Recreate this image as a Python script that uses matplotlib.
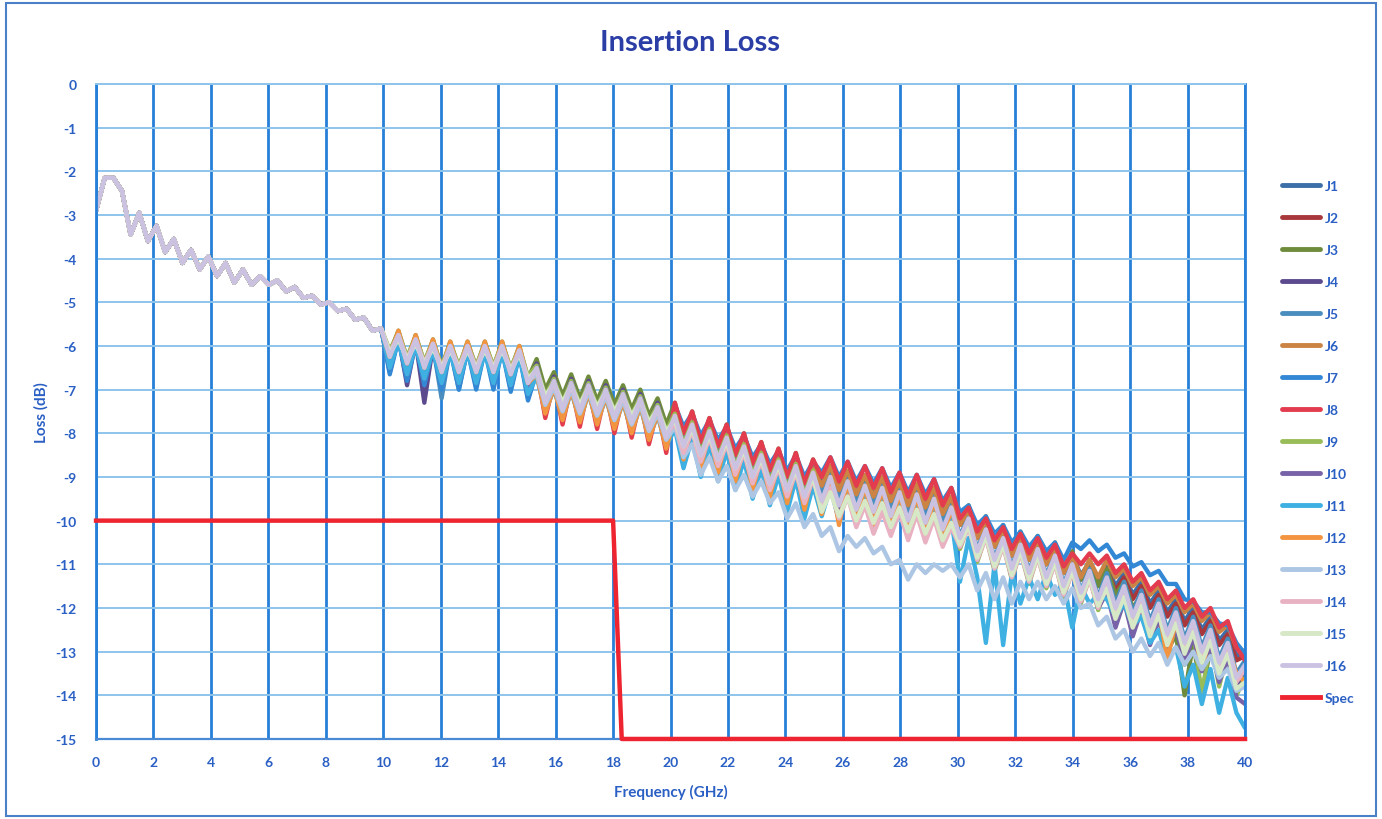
import numpy as np
import matplotlib
matplotlib.use("Agg")
import matplotlib.pyplot as plt
from matplotlib.patches import Rectangle

plt.rcParams['font.family'] = ['Lato', 'DejaVu Sans']

# sweep points (GHz)
freq = np.linspace(0, 40, 134)

# 0 - 10 GHz : all samples sit on top of each other
low_band = [-2.9, -2.15, -2.15, -2.45, -3.45, -2.95, -3.6, -3.25, -3.85, -3.55,
            -4.1, -3.8, -4.25, -3.95, -4.4, -4.1, -4.55, -4.25, -4.6, -4.4,
            -4.6, -4.5, -4.75, -4.65, -4.9, -4.85, -5.05, -5.0, -5.2, -5.15,
            -5.4, -5.35, -5.65, -5.6]

# 10 - 40 GHz, one list per sample
j1_hi = [-6.55, -5.75, -6.7, -5.85, -6.8, -5.95, -6.9, -6.0, -6.9, -6.0,
         -6.9, -6.0, -6.9, -6.0, -6.95, -6.1, -7.15, -6.6, -7.4, -6.9,
         -7.55, -6.95, -7.6, -7.0, -7.65, -7.1, -7.75, -7.2, -7.85, -7.3,
         -8.0, -7.5, -8.2, -7.45, -8.05, -7.65, -8.25, -7.8, -8.35, -7.95,
         -8.55, -8.15, -8.75, -8.35, -8.9, -8.5, -9.05, -8.6, -9.2, -8.75,
         -9.15, -8.8, -9.25, -8.9, -9.35, -9.0, -9.4, -9.05, -9.5, -9.15,
         -9.6, -9.2, -9.65, -9.3, -9.8, -9.5, -10.0, -9.75, -10.3, -10.0,
         -10.5, -10.2, -10.7, -10.35, -10.8, -10.45, -10.9, -10.6, -11.1, -10.8,
         -11.25, -10.95, -11.4, -11.0, -11.5, -11.2, -11.7, -11.4, -11.9, -11.6,
         -12.1, -11.8, -12.3, -12.0, -12.5, -12.2, -12.75, -12.5, -13.1, -13.0]
j2_hi = [-6.4, -5.8, -6.55, -5.9, -6.65, -6.0, -6.75, -6.05, -6.75, -6.05,
         -6.75, -6.05, -6.75, -6.05, -6.8, -6.15, -7.0, -6.6, -7.5, -6.9,
         -7.65, -6.95, -7.7, -7.0, -7.75, -7.1, -7.85, -7.2, -7.95, -7.3,
         -8.1, -7.5, -8.3, -7.45, -8.15, -7.65, -8.35, -7.8, -8.45, -7.95,
         -8.65, -8.15, -8.85, -8.35, -9.0, -8.5, -9.15, -8.6, -9.3, -8.75,
         -9.2, -8.85, -9.3, -8.95, -9.4, -9.05, -9.45, -9.1, -9.55, -9.2,
         -9.65, -9.25, -9.7, -9.35, -9.85, -9.55, -10.1, -9.85, -10.4, -10.1,
         -10.6, -10.3, -10.8, -10.45, -10.9, -10.55, -11.0, -10.7, -11.2, -10.9,
         -11.35, -11.05, -11.5, -11.1, -11.6, -11.3, -11.8, -11.5, -12.0, -11.7,
         -12.2, -11.9, -12.4, -12.1, -12.6, -12.3, -12.85, -12.6, -13.2, -13.1]
j3_hi = [-6.15, -5.65, -6.3, -5.75, -6.4, -5.85, -6.5, -5.9, -6.5, -5.9,
         -6.5, -5.9, -6.5, -5.9, -6.55, -6.0, -6.75, -6.3, -7.0, -6.6,
         -7.15, -6.65, -7.2, -6.7, -7.25, -6.8, -7.35, -6.9, -7.45, -7.0,
         -7.6, -7.2, -7.8, -7.3, -8.1, -7.5, -8.3, -7.65, -8.4, -7.8,
         -8.6, -8.0, -8.8, -8.2, -8.95, -8.35, -9.1, -8.45, -9.25, -8.6,
         -9.35, -8.8, -9.45, -8.9, -9.55, -9.0, -9.6, -9.05, -9.7, -9.15,
         -9.8, -9.2, -9.85, -9.3, -10.0, -9.5, -10.1, -9.65, -10.4, -9.9,
         -10.6, -10.1, -10.8, -10.25, -10.9, -10.35, -11.0, -10.5, -11.2, -10.7,
         -11.35, -10.9, -11.5, -11.1, -11.7, -11.4, -12.0, -11.7, -12.4, -12.0,
         -13.0, -12.6, -14.0, -12.8, -14.0, -12.9, -13.4, -13.0, -13.6, -13.4]
j4_hi = [-6.4, -5.8, -6.9, -5.9, -7.3, -6.0, -7.0, -6.05, -6.8, -6.05,
         -6.8, -6.05, -6.7, -6.05, -6.7, -6.15, -6.9, -6.4, -7.2, -6.7,
         -7.35, -6.75, -7.4, -6.8, -7.45, -6.9, -7.55, -7.0, -7.65, -7.1,
         -7.8, -7.3, -8.0, -7.7, -8.5, -7.9, -8.7, -8.05, -8.8, -8.2,
         -9.0, -8.4, -9.2, -8.6, -9.35, -8.75, -9.5, -8.85, -9.65, -9.0,
         -9.65, -9.1, -9.75, -9.2, -9.85, -9.3, -9.9, -9.35, -10.0, -9.45,
         -10.1, -9.5, -10.15, -9.6, -10.3, -9.8, -10.5, -10.05, -10.8, -10.3,
         -11.0, -10.5, -11.2, -10.65, -11.3, -10.75, -11.4, -10.9, -11.6, -11.1,
         -11.75, -11.25, -11.9, -11.5, -12.2, -11.7, -12.4, -11.9, -12.6, -12.1,
         -12.8, -12.3, -13.0, -12.5, -13.2, -12.7, -13.45, -13.0, -13.8, -13.5]
j5_hi = [-6.6, -5.8, -6.75, -5.9, -6.85, -6.0, -7.2, -6.05, -7.0, -6.05,
         -6.95, -6.05, -6.9, -6.05, -7.0, -6.15, -7.2, -6.55, -7.35, -6.85,
         -7.5, -6.9, -7.55, -6.95, -7.6, -7.05, -7.7, -7.15, -7.8, -7.25,
         -7.95, -7.45, -8.15, -7.5, -8.2, -7.7, -8.4, -7.85, -8.5, -8.0,
         -8.7, -8.2, -8.9, -8.4, -9.05, -8.55, -9.2, -8.65, -9.35, -8.8,
         -9.4, -8.95, -9.5, -9.05, -9.6, -9.15, -9.65, -9.2, -9.75, -9.3,
         -9.85, -9.35, -9.9, -9.45, -10.05, -9.65, -10.35, -9.9, -10.65, -10.15,
         -10.85, -10.35, -11.05, -10.5, -11.15, -10.6, -11.25, -10.75, -11.45, -10.95,
         -11.6, -11.1, -11.75, -11.2, -11.9, -11.4, -12.1, -11.6, -12.3, -11.8,
         -12.5, -12.0, -12.7, -12.2, -12.9, -12.4, -13.15, -12.7, -13.5, -13.2]
j6_hi = [-6.2, -5.7, -6.35, -5.8, -6.45, -5.9, -6.55, -5.95, -6.55, -5.95,
         -6.55, -5.95, -6.55, -5.95, -6.6, -6.05, -6.8, -6.55, -7.45, -6.85,
         -7.6, -6.9, -7.65, -6.95, -7.7, -7.05, -7.8, -7.15, -7.9, -7.25,
         -8.05, -7.45, -8.25, -7.5, -8.3, -7.7, -8.5, -7.85, -8.6, -8.0,
         -8.8, -8.2, -9.0, -8.4, -9.15, -8.55, -9.3, -8.65, -9.45, -8.8,
         -9.2, -8.75, -9.3, -8.85, -9.4, -8.95, -9.45, -9.0, -9.55, -9.1,
         -9.65, -9.15, -9.7, -9.25, -9.85, -9.45, -10.1, -9.75, -10.4, -10.0,
         -10.6, -10.2, -10.8, -10.35, -10.9, -10.45, -11.0, -10.6, -11.2, -10.8,
         -11.3, -10.9, -11.3, -10.9, -11.3, -11.1, -11.5, -11.3, -11.7, -11.5,
         -11.9, -11.7, -12.1, -11.9, -12.3, -12.1, -12.55, -12.4, -12.9, -13.0]
j7_hi = [-6.65, -5.85, -6.8, -5.95, -6.9, -6.05, -7.0, -6.1, -7.0, -6.1,
         -7.0, -6.1, -7.0, -6.1, -7.05, -6.2, -7.25, -6.6, -7.5, -6.9,
         -7.65, -6.95, -7.7, -7.0, -7.75, -7.1, -7.85, -7.2, -7.95, -7.3,
         -8.1, -7.5, -8.3, -7.35, -7.85, -7.55, -8.05, -7.7, -8.15, -7.85,
         -8.35, -8.05, -8.55, -8.25, -8.7, -8.4, -8.85, -8.5, -9.0, -8.65,
         -8.9, -8.55, -9.0, -8.65, -9.1, -8.75, -9.15, -8.8, -9.25, -8.9,
         -9.35, -8.95, -9.4, -9.05, -9.55, -9.25, -9.8, -9.65, -10.1, -9.9,
         -10.3, -10.1, -10.5, -10.25, -10.6, -10.35, -10.7, -10.5, -10.9, -10.5,
         -10.65, -10.45, -10.7, -10.55, -10.85, -10.75, -11.05, -10.95, -11.25, -11.15,
         -11.45, -11.45, -11.8, -11.85, -12.1, -12.1, -12.35, -12.4, -12.8, -13.05]
j8_hi = [-6.25, -5.75, -6.4, -5.85, -6.5, -5.95, -6.6, -6.0, -6.6, -6.0,
         -6.6, -6.0, -6.6, -6.0, -6.65, -6.1, -6.85, -6.55, -7.65, -6.85,
         -7.8, -6.9, -7.85, -6.95, -7.9, -7.05, -8.0, -7.15, -8.1, -7.25,
         -8.25, -7.45, -8.45, -7.3, -8.0, -7.5, -8.2, -7.65, -8.3, -7.8,
         -8.5, -8.0, -8.7, -8.2, -8.85, -8.35, -9.0, -8.45, -9.15, -8.6,
         -9.0, -8.55, -9.1, -8.65, -9.2, -8.75, -9.25, -8.8, -9.35, -8.9,
         -9.45, -8.95, -9.5, -9.05, -9.65, -9.25, -9.95, -9.7, -10.25, -9.95,
         -10.45, -10.15, -10.65, -10.3, -10.75, -10.4, -10.85, -10.55, -11.05, -10.75,
         -11.0, -10.75, -11.0, -10.8, -11.2, -11.0, -11.4, -11.2, -11.6, -11.4,
         -11.8, -11.6, -12.0, -11.8, -12.2, -12.0, -12.45, -12.3, -12.9, -13.2]
j9_hi = [-6.1, -5.7, -6.25, -5.8, -6.35, -5.9, -6.45, -5.95, -6.45, -5.95,
         -6.45, -5.95, -6.45, -5.95, -6.5, -6.05, -6.7, -6.45, -7.15, -6.75,
         -7.3, -6.8, -7.35, -6.85, -7.4, -6.95, -7.5, -7.05, -7.6, -7.15,
         -7.75, -7.35, -7.95, -7.55, -8.25, -7.75, -8.45, -7.9, -8.55, -8.05,
         -8.75, -8.25, -8.95, -8.45, -9.1, -8.6, -9.25, -8.7, -9.4, -8.85,
         -9.7, -9.15, -9.8, -9.25, -9.9, -9.35, -9.95, -9.4, -10.05, -9.5,
         -10.15, -9.55, -10.2, -9.65, -10.35, -9.85, -10.65, -10.1, -10.95, -10.35,
         -11.15, -10.55, -11.35, -10.7, -11.45, -10.8, -11.55, -10.95, -11.75, -11.15,
         -11.9, -11.3, -12.05, -11.5, -12.4, -11.7, -12.6, -11.9, -12.8, -12.1,
         -13.0, -12.3, -13.3, -12.5, -14.0, -12.7, -13.8, -13.0, -14.0, -13.6]
j10_hi = [-6.5, -5.8, -6.65, -5.9, -6.75, -6.0, -6.85, -6.05, -6.85, -6.05,
          -6.85, -6.05, -6.85, -6.05, -6.9, -6.15, -7.1, -6.5, -7.4, -6.8,
          -7.55, -6.85, -7.6, -6.9, -7.65, -7.0, -7.75, -7.1, -7.85, -7.2,
          -8.0, -7.4, -8.2, -7.85, -8.55, -8.05, -8.75, -8.2, -8.85, -8.35,
          -9.05, -8.55, -9.25, -8.75, -9.4, -8.9, -9.55, -9.0, -9.7, -9.15,
          -9.6, -9.05, -9.7, -9.15, -9.8, -9.25, -9.85, -9.3, -9.95, -9.4,
          -10.05, -9.45, -10.1, -9.55, -10.25, -9.75, -10.6, -10.05, -10.9, -10.3,
          -11.1, -10.5, -11.3, -10.65, -11.4, -10.75, -11.5, -10.9, -11.7, -11.1,
          -11.85, -11.25, -12.0, -11.65, -12.45, -11.85, -12.65, -12.05, -12.85, -12.25,
          -13.05, -12.45, -13.25, -12.65, -13.45, -12.85, -13.7, -13.15, -14.05, -14.2]
j11_hi = [-6.5, -5.9, -6.65, -6.0, -6.75, -6.1, -6.85, -6.15, -6.85, -6.15,
          -6.85, -6.15, -6.85, -6.15, -6.9, -6.25, -7.1, -6.7, -7.5, -7.0,
          -7.65, -7.05, -7.7, -7.1, -7.75, -7.2, -7.85, -7.3, -7.95, -7.4,
          -8.1, -7.6, -8.3, -7.9, -8.8, -8.1, -9.0, -8.25, -9.1, -8.4,
          -9.3, -8.6, -9.5, -8.8, -9.65, -8.95, -9.8, -9.05, -9.95, -9.2,
          -9.9, -9.25, -10.0, -9.35, -10.1, -9.45, -10.15, -9.5, -10.25, -9.6,
          -10.35, -9.65, -10.4, -9.75, -10.55, -9.95, -11.4, -10.4, -11.3, -12.8,
          -11.0, -12.85, -11.2, -11.9, -11.3, -11.8, -11.2, -11.7, -11.4, -12.45,
          -11.5, -11.9, -11.7, -11.8, -12.2, -11.9, -12.4, -12.2, -12.8, -12.5,
          -13.2, -12.9, -13.8, -13.3, -14.2, -13.4, -14.4, -13.6, -14.4, -14.75]
j12_hi = [-6.25, -5.65, -6.4, -5.75, -6.5, -5.85, -6.6, -5.9, -6.6, -5.9,
          -6.6, -5.9, -6.6, -5.9, -6.65, -6.0, -6.85, -6.65, -7.55, -6.95,
          -7.7, -7.0, -7.75, -7.05, -7.8, -7.15, -7.9, -7.25, -8.0, -7.35,
          -8.15, -7.55, -8.35, -7.6, -8.6, -7.8, -8.8, -7.95, -8.9, -8.1,
          -9.1, -8.3, -9.3, -8.5, -9.45, -8.65, -9.6, -8.75, -9.75, -8.9,
          -9.85, -9.0, -10.1, -9.1, -10.05, -9.2, -10.1, -9.25, -10.2, -9.35,
          -10.3, -9.4, -10.35, -9.5, -10.5, -9.7, -10.55, -10.0, -10.85, -10.25,
          -11.05, -10.45, -11.25, -10.6, -11.35, -10.7, -11.45, -10.85, -11.65, -11.05,
          -11.8, -11.2, -11.95, -11.4, -12.1, -11.6, -12.3, -11.8, -12.5, -12.0,
          -13.2, -12.3, -12.9, -12.4, -13.4, -12.6, -13.3, -12.9, -13.5, -13.7]
j13_hi = [-6.2, -5.8, -6.35, -5.9, -6.45, -6.0, -6.55, -6.05, -6.55, -6.05,
          -6.55, -6.05, -6.55, -6.05, -6.6, -6.15, -6.8, -6.65, -7.35, -6.95,
          -7.5, -7.0, -7.55, -7.05, -7.6, -7.15, -7.7, -7.25, -7.8, -7.35,
          -7.95, -7.55, -8.15, -7.85, -8.55, -8.25, -8.95, -8.55, -9.1, -8.75,
          -9.3, -8.95, -9.45, -9.1, -9.6, -9.35, -9.95, -9.6, -10.15, -9.85,
          -10.35, -10.15, -10.7, -10.35, -10.6, -10.4, -10.75, -10.6, -11.0, -10.9,
          -11.35, -11.0, -11.2, -11.0, -11.15, -11.0, -11.3, -11.0, -11.6, -11.2,
          -11.8, -11.3, -11.9, -11.4, -11.8, -11.4, -11.8, -11.5, -11.9, -11.55,
          -12.0, -11.9, -12.4, -12.2, -12.7, -12.5, -13.0, -12.7, -13.1, -12.8,
          -13.3, -12.9, -13.3, -13.0, -13.4, -13.1, -13.6, -13.4, -13.9, -13.8]
j14_hi = [-6.15, -5.75, -6.3, -5.85, -6.4, -5.95, -6.5, -6.0, -6.5, -6.0,
          -6.5, -6.0, -6.5, -6.0, -6.55, -6.1, -6.75, -6.55, -7.25, -6.85,
          -7.4, -6.9, -7.45, -6.95, -7.5, -7.05, -7.6, -7.15, -7.7, -7.25,
          -7.85, -7.45, -8.05, -7.75, -8.45, -7.95, -8.65, -8.1, -8.75, -8.25,
          -8.95, -8.45, -9.15, -8.65, -9.3, -8.8, -9.45, -8.9, -9.6, -9.05,
          -9.75, -9.25, -9.95, -9.45, -10.15, -9.65, -10.3, -9.8, -10.35, -9.8,
          -10.45, -9.85, -10.5, -9.95, -10.6, -10.15, -10.6, -10.15, -10.9, -10.4,
          -11.1, -10.6, -11.3, -10.75, -11.4, -10.85, -11.5, -11.0, -11.7, -11.2,
          -11.85, -11.35, -12.0, -11.4, -12.1, -11.6, -12.3, -11.8, -12.5, -12.0,
          -12.7, -12.2, -12.9, -12.4, -13.1, -12.6, -13.35, -12.9, -13.7, -13.4]
j15_hi = [-6.15, -5.85, -6.3, -5.95, -6.4, -6.05, -6.5, -6.1, -6.5, -6.1,
          -6.5, -6.1, -6.5, -6.1, -6.55, -6.2, -6.75, -6.55, -7.15, -6.85,
          -7.3, -6.9, -7.35, -6.95, -7.4, -7.05, -7.5, -7.15, -7.6, -7.25,
          -7.75, -7.45, -7.95, -7.7, -8.3, -7.9, -8.5, -8.05, -8.6, -8.2,
          -8.8, -8.4, -9.0, -8.6, -9.15, -8.75, -9.3, -8.85, -9.45, -9.0,
          -9.8, -9.35, -9.9, -9.45, -10.0, -9.55, -10.05, -9.6, -10.15, -9.7,
          -10.25, -9.75, -10.3, -9.85, -10.45, -10.05, -10.55, -10.1, -10.85, -10.35,
          -11.05, -10.55, -11.25, -10.7, -11.35, -10.8, -11.45, -10.95, -11.65, -11.15,
          -11.8, -11.3, -11.95, -11.55, -12.25, -11.75, -12.45, -11.95, -12.65, -12.15,
          -12.85, -12.35, -13.05, -12.55, -13.25, -12.75, -13.5, -13.05, -13.85, -13.7]
j16_hi = [-6.25, -5.75, -6.4, -5.85, -6.5, -5.95, -6.6, -6.0, -6.6, -6.0,
          -6.6, -6.0, -6.6, -6.0, -6.65, -6.1, -6.85, -6.5, -7.3, -6.8,
          -7.45, -6.85, -7.5, -6.9, -7.55, -7.0, -7.65, -7.1, -7.75, -7.2,
          -7.9, -7.4, -8.1, -7.6, -8.3, -7.8, -8.5, -7.95, -8.6, -8.1,
          -8.8, -8.3, -9.0, -8.5, -9.15, -8.65, -9.3, -8.75, -9.45, -8.9,
          -9.55, -9.0, -9.65, -9.1, -9.75, -9.2, -9.8, -9.25, -9.9, -9.35,
          -10.0, -9.4, -10.05, -9.5, -10.2, -9.7, -10.4, -9.95, -10.7, -10.2,
          -10.9, -10.4, -11.1, -10.55, -11.2, -10.65, -11.3, -10.8, -11.5, -11.0,
          -11.65, -11.15, -11.8, -11.3, -12.0, -11.5, -12.2, -11.7, -12.4, -11.9,
          -12.6, -12.1, -12.8, -12.3, -13.0, -12.5, -13.25, -12.8, -13.6, -13.3]

spec_freq = [0, 18, 18.3, 40]
spec_loss = [-10, -10, -15, -15]

names = ['J1', 'J2', 'J3', 'J4', 'J5', 'J6', 'J7', 'J8',
         'J9', 'J10', 'J11', 'J12', 'J13', 'J14', 'J15', 'J16']
hi_parts = [j1_hi, j2_hi, j3_hi, j4_hi, j5_hi, j6_hi, j7_hi, j8_hi,
            j9_hi, j10_hi, j11_hi, j12_hi, j13_hi, j14_hi, j15_hi, j16_hi]
colors = ['#3c6ea8', '#a8383c', '#6e8c3c', '#5c4a8e', '#4a8ec0', '#cc8444',
          '#3388d6', '#e23c4e', '#98bc58', '#7862a8', '#3eb0e2', '#f29440',
          '#adc6e4', '#e9b2c2', '#d6e8c6', '#cbc2e2']

text_blue = '#2a5fc4'
vgrid = '#2680d8'
hgrid = '#8ec4ec'

fig = plt.figure(figsize=(13.82, 8.20), dpi=100)
ax = fig.add_axes([0.0695, 0.0976, 0.8314, 0.7988])

for name, hi, col in zip(names, hi_parts, colors):
    ax.plot(freq, low_band + hi, color=col, lw=3.1, label=name,
            solid_joinstyle='round', solid_capstyle='round')
ax.plot(spec_freq, spec_loss, color='#ee2430', lw=3.2, label='Spec',
        clip_on=False, zorder=5)

ax.set_xlim(0, 40)
ax.set_ylim(-15, 0)
ax.set_xticks(np.arange(0, 41, 2))
ax.set_yticks(np.arange(-15, 1, 1))
ax.set_yticklabels([str(v) for v in range(-15, 1)])
ax.tick_params(length=0, labelsize=10, labelcolor=text_blue)
ax.tick_params(axis='x', pad=12)
ax.tick_params(axis='y', pad=14)
for lab in ax.get_xticklabels() + ax.get_yticklabels():
    lab.set_fontweight('bold')

ax.xaxis.grid(True, color=vgrid, lw=2.0)
ax.yaxis.grid(True, color=hgrid, lw=1.4)
ax.set_axisbelow(True)
for side in ['left', 'right']:
    ax.spines[side].set_color(vgrid)
    ax.spines[side].set_linewidth(2.0)
ax.spines['top'].set_color(hgrid)
ax.spines['top'].set_linewidth(1.4)
ax.spines['bottom'].set_color('#4a8ad4')
ax.spines['bottom'].set_linewidth(1.6)

ax.set_xlabel('Frequency (GHz)', fontsize=11, fontweight='bold',
              color=text_blue, labelpad=12)
ax.set_ylabel('Loss (dB)', fontsize=11, fontweight='bold',
              color=text_blue, labelpad=5)
fig.text(0.499, 0.948, 'Insertion Loss', ha='center', va='center',
         fontsize=21, fontweight='bold', color='#2b3ea6')

leg = ax.legend(loc='upper left', bbox_to_anchor=(1282 / 1382, 1 - 181 / 820),
                bbox_transform=fig.transFigure, frameon=False, fontsize=10,
                handlelength=2.75, handletextpad=0.35, labelspacing=1.44,
                borderpad=0, borderaxespad=0)
for t in leg.get_texts():
    t.set_color(text_blue)
    t.set_fontweight('bold')
for h in leg.get_lines():
    h.set_linewidth(3.5)

fig.add_artist(Rectangle((0.004, 0.004), 0.992, 0.991, transform=fig.transFigure,
                         fill=False, edgecolor='#4a80c8', lw=1.5))

fig.savefig('out.png', dpi=100, facecolor='white')
